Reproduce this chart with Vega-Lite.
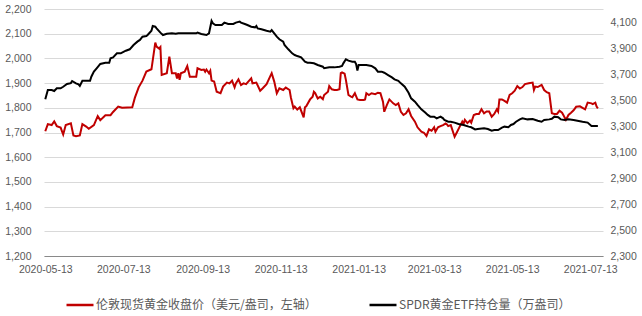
{
  "$schema": "https://vega.github.io/schema/vega-lite/v6.json",
  "width": 559,
  "height": 247,
  "autosize": {"type": "none"},
  "padding": {"left": 44, "top": 9, "right": 39, "bottom": 60},
  "background": "white",
  "config": {"view": {"stroke": null}, "font": "Liberation Sans"},
  "datasets": {
    "gold": [
      {"date": "2020-05-13", "value": 1705}, {"date": "2020-05-15", "value": 1734}, {"date": "2020-05-18", "value": 1730},
      {"date": "2020-05-20", "value": 1745}, {"date": "2020-05-22", "value": 1726}, {"date": "2020-05-25", "value": 1720},
      {"date": "2020-05-27", "value": 1692}, {"date": "2020-05-29", "value": 1730}, {"date": "2020-06-02", "value": 1737},
      {"date": "2020-06-04", "value": 1688}, {"date": "2020-06-06", "value": 1685}, {"date": "2020-06-09", "value": 1688},
      {"date": "2020-06-11", "value": 1734}, {"date": "2020-06-14", "value": 1724}, {"date": "2020-06-16", "value": 1715},
      {"date": "2020-06-20", "value": 1730}, {"date": "2020-06-23", "value": 1766}, {"date": "2020-06-25", "value": 1750},
      {"date": "2020-06-29", "value": 1770}, {"date": "2020-07-03", "value": 1770}, {"date": "2020-07-05", "value": 1783},
      {"date": "2020-07-09", "value": 1805}, {"date": "2020-07-12", "value": 1800}, {"date": "2020-07-20", "value": 1802},
      {"date": "2020-07-22", "value": 1840}, {"date": "2020-07-25", "value": 1883}, {"date": "2020-07-28", "value": 1910},
      {"date": "2020-07-31", "value": 1947}, {"date": "2020-08-04", "value": 1956}, {"date": "2020-08-07", "value": 2064},
      {"date": "2020-08-08", "value": 2048}, {"date": "2020-08-10", "value": 2040}, {"date": "2020-08-11", "value": 2046},
      {"date": "2020-08-12", "value": 1933}, {"date": "2020-08-16", "value": 1940}, {"date": "2020-08-18", "value": 2007},
      {"date": "2020-08-20", "value": 1940}, {"date": "2020-08-23", "value": 1940}, {"date": "2020-08-24", "value": 1919},
      {"date": "2020-08-25", "value": 1940}, {"date": "2020-08-26", "value": 1913}, {"date": "2020-08-27", "value": 1940},
      {"date": "2020-08-30", "value": 1946}, {"date": "2020-09-01", "value": 1969}, {"date": "2020-09-03", "value": 1926},
      {"date": "2020-09-06", "value": 1926}, {"date": "2020-09-08", "value": 1926}, {"date": "2020-09-09", "value": 1960},
      {"date": "2020-09-12", "value": 1953}, {"date": "2020-09-14", "value": 1955}, {"date": "2020-09-15", "value": 1946},
      {"date": "2020-09-16", "value": 1955}, {"date": "2020-09-18", "value": 1940}, {"date": "2020-09-19", "value": 1950},
      {"date": "2020-09-20", "value": 1910}, {"date": "2020-09-22", "value": 1906}, {"date": "2020-09-24", "value": 1865},
      {"date": "2020-09-27", "value": 1859}, {"date": "2020-09-29", "value": 1886}, {"date": "2020-10-02", "value": 1902},
      {"date": "2020-10-04", "value": 1899}, {"date": "2020-10-06", "value": 1910}, {"date": "2020-10-08", "value": 1883},
      {"date": "2020-10-09", "value": 1899}, {"date": "2020-10-11", "value": 1915}, {"date": "2020-10-13", "value": 1892},
      {"date": "2020-10-15", "value": 1899}, {"date": "2020-10-17", "value": 1896}, {"date": "2020-10-18", "value": 1902},
      {"date": "2020-10-21", "value": 1919}, {"date": "2020-10-22", "value": 1899}, {"date": "2020-10-25", "value": 1902},
      {"date": "2020-10-28", "value": 1869}, {"date": "2020-10-30", "value": 1879}, {"date": "2020-11-02", "value": 1896},
      {"date": "2020-11-05", "value": 1929}, {"date": "2020-11-06", "value": 1940}, {"date": "2020-11-08", "value": 1906},
      {"date": "2020-11-10", "value": 1859}, {"date": "2020-11-12", "value": 1879}, {"date": "2020-11-15", "value": 1872},
      {"date": "2020-11-17", "value": 1882}, {"date": "2020-11-20", "value": 1872}, {"date": "2020-11-21", "value": 1842},
      {"date": "2020-11-23", "value": 1798}, {"date": "2020-11-24", "value": 1805}, {"date": "2020-11-26", "value": 1793},
      {"date": "2020-11-28", "value": 1802}, {"date": "2020-12-01", "value": 1761}, {"date": "2020-12-02", "value": 1802},
      {"date": "2020-12-03", "value": 1806}, {"date": "2020-12-06", "value": 1834}, {"date": "2020-12-08", "value": 1845},
      {"date": "2020-12-09", "value": 1865}, {"date": "2020-12-10", "value": 1860}, {"date": "2020-12-12", "value": 1838},
      {"date": "2020-12-14", "value": 1845}, {"date": "2020-12-16", "value": 1835}, {"date": "2020-12-17", "value": 1852},
      {"date": "2020-12-20", "value": 1865}, {"date": "2020-12-21", "value": 1888}, {"date": "2020-12-23", "value": 1875},
      {"date": "2020-12-25", "value": 1872}, {"date": "2020-12-27", "value": 1872}, {"date": "2020-12-29", "value": 1875},
      {"date": "2020-12-30", "value": 1940}, {"date": "2020-12-31", "value": 1943}, {"date": "2021-01-02", "value": 1938},
      {"date": "2021-01-03", "value": 1913}, {"date": "2021-01-05", "value": 1852}, {"date": "2021-01-07", "value": 1845},
      {"date": "2021-01-08", "value": 1843}, {"date": "2021-01-10", "value": 1859}, {"date": "2021-01-12", "value": 1834},
      {"date": "2021-01-14", "value": 1832}, {"date": "2021-01-17", "value": 1832}, {"date": "2021-01-18", "value": 1834},
      {"date": "2021-01-19", "value": 1859}, {"date": "2021-01-21", "value": 1852}, {"date": "2021-01-23", "value": 1859},
      {"date": "2021-01-26", "value": 1855}, {"date": "2021-01-28", "value": 1861}, {"date": "2021-01-30", "value": 1859},
      {"date": "2021-02-01", "value": 1825}, {"date": "2021-02-02", "value": 1784}, {"date": "2021-02-04", "value": 1811},
      {"date": "2021-02-06", "value": 1834}, {"date": "2021-02-09", "value": 1818}, {"date": "2021-02-11", "value": 1811},
      {"date": "2021-02-13", "value": 1818}, {"date": "2021-02-15", "value": 1784}, {"date": "2021-02-17", "value": 1771},
      {"date": "2021-02-19", "value": 1778}, {"date": "2021-02-21", "value": 1794}, {"date": "2021-02-23", "value": 1767},
      {"date": "2021-02-26", "value": 1744}, {"date": "2021-02-28", "value": 1721}, {"date": "2021-03-03", "value": 1703},
      {"date": "2021-03-05", "value": 1699}, {"date": "2021-03-07", "value": 1686}, {"date": "2021-03-09", "value": 1713},
      {"date": "2021-03-11", "value": 1707}, {"date": "2021-03-13", "value": 1721}, {"date": "2021-03-14", "value": 1703},
      {"date": "2021-03-16", "value": 1721}, {"date": "2021-03-18", "value": 1726}, {"date": "2021-03-20", "value": 1730},
      {"date": "2021-03-22", "value": 1737}, {"date": "2021-03-23", "value": 1733}, {"date": "2021-03-24", "value": 1726},
      {"date": "2021-03-26", "value": 1730}, {"date": "2021-03-29", "value": 1683}, {"date": "2021-03-31", "value": 1703},
      {"date": "2021-04-02", "value": 1724}, {"date": "2021-04-04", "value": 1744}, {"date": "2021-04-05", "value": 1735},
      {"date": "2021-04-06", "value": 1751}, {"date": "2021-04-08", "value": 1738}, {"date": "2021-04-10", "value": 1748},
      {"date": "2021-04-11", "value": 1740}, {"date": "2021-04-13", "value": 1771}, {"date": "2021-04-15", "value": 1775},
      {"date": "2021-04-17", "value": 1775}, {"date": "2021-04-19", "value": 1794}, {"date": "2021-04-21", "value": 1778},
      {"date": "2021-04-23", "value": 1785}, {"date": "2021-04-25", "value": 1785}, {"date": "2021-04-27", "value": 1764},
      {"date": "2021-04-29", "value": 1775}, {"date": "2021-05-01", "value": 1794}, {"date": "2021-05-02", "value": 1785},
      {"date": "2021-05-03", "value": 1834}, {"date": "2021-05-05", "value": 1834}, {"date": "2021-05-07", "value": 1828},
      {"date": "2021-05-09", "value": 1821}, {"date": "2021-05-11", "value": 1852}, {"date": "2021-05-13", "value": 1859},
      {"date": "2021-05-15", "value": 1869}, {"date": "2021-05-17", "value": 1888}, {"date": "2021-05-19", "value": 1878},
      {"date": "2021-05-21", "value": 1884}, {"date": "2021-05-23", "value": 1896}, {"date": "2021-05-26", "value": 1899},
      {"date": "2021-05-29", "value": 1902}, {"date": "2021-05-30", "value": 1872}, {"date": "2021-05-31", "value": 1886},
      {"date": "2021-06-02", "value": 1884}, {"date": "2021-06-05", "value": 1893}, {"date": "2021-06-07", "value": 1872},
      {"date": "2021-06-09", "value": 1863}, {"date": "2021-06-11", "value": 1859}, {"date": "2021-06-13", "value": 1778},
      {"date": "2021-06-15", "value": 1775}, {"date": "2021-06-17", "value": 1775}, {"date": "2021-06-19", "value": 1788},
      {"date": "2021-06-21", "value": 1780}, {"date": "2021-06-22", "value": 1771}, {"date": "2021-06-24", "value": 1751},
      {"date": "2021-06-26", "value": 1771}, {"date": "2021-06-28", "value": 1780}, {"date": "2021-06-30", "value": 1790},
      {"date": "2021-07-02", "value": 1804}, {"date": "2021-07-05", "value": 1806}, {"date": "2021-07-07", "value": 1800},
      {"date": "2021-07-09", "value": 1794}, {"date": "2021-07-11", "value": 1821}, {"date": "2021-07-14", "value": 1818},
      {"date": "2021-07-15", "value": 1815}, {"date": "2021-07-17", "value": 1821}, {"date": "2021-07-18", "value": 1805},
      {"date": "2021-07-19", "value": 1798}
    ],
    "spdr": [
      {"date": "2020-05-13", "value": 3505}, {"date": "2020-05-15", "value": 3577}, {"date": "2020-05-18", "value": 3577},
      {"date": "2020-05-20", "value": 3569}, {"date": "2020-05-22", "value": 3590}, {"date": "2020-05-25", "value": 3590},
      {"date": "2020-05-27", "value": 3602}, {"date": "2020-05-30", "value": 3623}, {"date": "2020-06-02", "value": 3630},
      {"date": "2020-06-03", "value": 3646}, {"date": "2020-06-06", "value": 3628}, {"date": "2020-06-08", "value": 3620},
      {"date": "2020-06-09", "value": 3608}, {"date": "2020-06-11", "value": 3648}, {"date": "2020-06-13", "value": 3648},
      {"date": "2020-06-17", "value": 3648}, {"date": "2020-06-18", "value": 3679}, {"date": "2020-06-20", "value": 3718},
      {"date": "2020-06-22", "value": 3741}, {"date": "2020-06-25", "value": 3777}, {"date": "2020-06-29", "value": 3787},
      {"date": "2020-07-02", "value": 3787}, {"date": "2020-07-03", "value": 3821}, {"date": "2020-07-05", "value": 3828},
      {"date": "2020-07-08", "value": 3859}, {"date": "2020-07-11", "value": 3859}, {"date": "2020-07-12", "value": 3864},
      {"date": "2020-07-15", "value": 3879}, {"date": "2020-07-18", "value": 3890}, {"date": "2020-07-21", "value": 3923},
      {"date": "2020-07-24", "value": 3949}, {"date": "2020-07-26", "value": 3962}, {"date": "2020-07-28", "value": 3987},
      {"date": "2020-07-31", "value": 3992}, {"date": "2020-08-01", "value": 4000}, {"date": "2020-08-04", "value": 4033},
      {"date": "2020-08-05", "value": 4069}, {"date": "2020-08-07", "value": 4064}, {"date": "2020-08-08", "value": 4051},
      {"date": "2020-08-11", "value": 4018}, {"date": "2020-08-13", "value": 4000}, {"date": "2020-08-16", "value": 4010},
      {"date": "2020-08-20", "value": 4013}, {"date": "2020-08-23", "value": 4010}, {"date": "2020-08-25", "value": 4013},
      {"date": "2020-08-29", "value": 4013}, {"date": "2020-09-03", "value": 4013}, {"date": "2020-09-08", "value": 4013},
      {"date": "2020-09-09", "value": 4018}, {"date": "2020-09-12", "value": 4008}, {"date": "2020-09-16", "value": 4000},
      {"date": "2020-09-18", "value": 4013}, {"date": "2020-09-20", "value": 4108}, {"date": "2020-09-21", "value": 4090},
      {"date": "2020-09-23", "value": 4077}, {"date": "2020-09-28", "value": 4077}, {"date": "2020-09-30", "value": 4095},
      {"date": "2020-10-03", "value": 4085}, {"date": "2020-10-07", "value": 4085}, {"date": "2020-10-09", "value": 4095},
      {"date": "2020-10-12", "value": 4103}, {"date": "2020-10-13", "value": 4095}, {"date": "2020-10-16", "value": 4085},
      {"date": "2020-10-18", "value": 4077}, {"date": "2020-10-21", "value": 4064}, {"date": "2020-10-24", "value": 4059},
      {"date": "2020-10-25", "value": 4069}, {"date": "2020-10-26", "value": 4051}, {"date": "2020-10-29", "value": 4044},
      {"date": "2020-11-02", "value": 4033}, {"date": "2020-11-05", "value": 4026}, {"date": "2020-11-06", "value": 4038},
      {"date": "2020-11-08", "value": 4013}, {"date": "2020-11-10", "value": 3987}, {"date": "2020-11-12", "value": 3967},
      {"date": "2020-11-15", "value": 3949}, {"date": "2020-11-16", "value": 3923}, {"date": "2020-11-19", "value": 3890},
      {"date": "2020-11-22", "value": 3859}, {"date": "2020-11-24", "value": 3846}, {"date": "2020-11-26", "value": 3838},
      {"date": "2020-11-29", "value": 3828}, {"date": "2020-12-02", "value": 3795}, {"date": "2020-12-04", "value": 3787},
      {"date": "2020-12-06", "value": 3787}, {"date": "2020-12-09", "value": 3782}, {"date": "2020-12-12", "value": 3769},
      {"date": "2020-12-16", "value": 3756}, {"date": "2020-12-17", "value": 3744}, {"date": "2020-12-21", "value": 3751},
      {"date": "2020-12-25", "value": 3751}, {"date": "2020-12-29", "value": 3756}, {"date": "2020-12-31", "value": 3762},
      {"date": "2021-01-01", "value": 3782}, {"date": "2021-01-03", "value": 3813}, {"date": "2021-01-05", "value": 3803},
      {"date": "2021-01-08", "value": 3795}, {"date": "2021-01-10", "value": 3795}, {"date": "2021-01-11", "value": 3777},
      {"date": "2021-01-12", "value": 3726}, {"date": "2021-01-13", "value": 3769}, {"date": "2021-01-19", "value": 3769},
      {"date": "2021-01-23", "value": 3762}, {"date": "2021-01-26", "value": 3744}, {"date": "2021-01-28", "value": 3718},
      {"date": "2021-01-31", "value": 3718}, {"date": "2021-02-02", "value": 3710}, {"date": "2021-02-05", "value": 3692},
      {"date": "2021-02-08", "value": 3674}, {"date": "2021-02-10", "value": 3659}, {"date": "2021-02-13", "value": 3648},
      {"date": "2021-02-15", "value": 3628}, {"date": "2021-02-18", "value": 3602}, {"date": "2021-02-21", "value": 3556},
      {"date": "2021-02-23", "value": 3513}, {"date": "2021-02-26", "value": 3487}, {"date": "2021-02-28", "value": 3462},
      {"date": "2021-03-03", "value": 3428}, {"date": "2021-03-06", "value": 3403}, {"date": "2021-03-08", "value": 3385},
      {"date": "2021-03-10", "value": 3372}, {"date": "2021-03-13", "value": 3372}, {"date": "2021-03-15", "value": 3359},
      {"date": "2021-03-18", "value": 3372}, {"date": "2021-03-20", "value": 3359}, {"date": "2021-03-21", "value": 3346},
      {"date": "2021-03-24", "value": 3333}, {"date": "2021-03-26", "value": 3333}, {"date": "2021-03-29", "value": 3326},
      {"date": "2021-04-01", "value": 3315}, {"date": "2021-04-05", "value": 3308}, {"date": "2021-04-09", "value": 3295},
      {"date": "2021-04-11", "value": 3290}, {"date": "2021-04-14", "value": 3274}, {"date": "2021-04-16", "value": 3277},
      {"date": "2021-04-21", "value": 3282}, {"date": "2021-04-24", "value": 3277}, {"date": "2021-04-27", "value": 3264},
      {"date": "2021-04-29", "value": 3269}, {"date": "2021-05-02", "value": 3269}, {"date": "2021-05-05", "value": 3287},
      {"date": "2021-05-07", "value": 3295}, {"date": "2021-05-10", "value": 3290}, {"date": "2021-05-12", "value": 3308},
      {"date": "2021-05-14", "value": 3315}, {"date": "2021-05-16", "value": 3333}, {"date": "2021-05-19", "value": 3351},
      {"date": "2021-05-21", "value": 3359}, {"date": "2021-05-25", "value": 3351}, {"date": "2021-05-29", "value": 3354},
      {"date": "2021-06-02", "value": 3341}, {"date": "2021-06-05", "value": 3333}, {"date": "2021-06-07", "value": 3346},
      {"date": "2021-06-11", "value": 3351}, {"date": "2021-06-13", "value": 3356}, {"date": "2021-06-15", "value": 3372},
      {"date": "2021-06-18", "value": 3367}, {"date": "2021-06-20", "value": 3351}, {"date": "2021-06-23", "value": 3346},
      {"date": "2021-06-26", "value": 3351}, {"date": "2021-06-30", "value": 3346}, {"date": "2021-07-03", "value": 3341},
      {"date": "2021-07-07", "value": 3333}, {"date": "2021-07-11", "value": 3326}, {"date": "2021-07-14", "value": 3300},
      {"date": "2021-07-16", "value": 3300}, {"date": "2021-07-19", "value": 3300}
    ]
  },
  "layer": [
    {
      "data": {"name": "gold"},
      "mark": {"type": "line", "strokeWidth": 2, "interpolate": "linear"},
      "encoding": {
        "x": {
          "field": "date", "type": "temporal",
          "scale": {"type": "utc", "domain": [{"year": 2020, "month": 5, "date": 12, "utc": true}, {"year": 2021, "month": 7, "date": 23, "utc": true}]},
          "axis": {
            "title": null,
            "values": [
              {"year": 2020, "month": 5, "date": 13, "utc": true}, {"year": 2020, "month": 7, "date": 13, "utc": true},
              {"year": 2020, "month": 9, "date": 13, "utc": true}, {"year": 2020, "month": 11, "date": 13, "utc": true},
              {"year": 2021, "month": 1, "date": 13, "utc": true}, {"year": 2021, "month": 3, "date": 13, "utc": true},
              {"year": 2021, "month": 5, "date": 13, "utc": true}, {"year": 2021, "month": 7, "date": 13, "utc": true}
            ],
            "labelExpr": "utcFormat(datum.value, '%Y-%m-%d')",
            "grid": false, "ticks": false, "tickSize": 0,
            "domain": true, "domainColor": "#898989", "domainWidth": 1,
            "labelColor": "#595959", "labelFontSize": 10.5, "labelPadding": 8,
            "labelFlush": false, "labelOverlap": false
          }
        },
        "y": {
          "field": "value", "type": "quantitative",
          "scale": {"domain": [1200, 2200], "nice": false, "zero": false},
          "axis": {
            "title": null,
            "values": [1200, 1300, 1400, 1500, 1600, 1700, 1800, 1900, 2000, 2100, 2200],
            "labelExpr": "format(datum.value, ',.0f')",
            "grid": true, "gridColor": "#D9D9D9", "gridWidth": 1,
            "domain": false, "ticks": false, "tickSize": 0,
            "labelColor": "#595959", "labelFontSize": 10.5, "labelPadding": 13
          }
        },
        "color": {
          "datum": "伦敦现货黄金收盘价（美元/盎司，左轴）",
          "type": "nominal",
          "scale": {
            "domain": ["伦敦现货黄金收盘价（美元/盎司，左轴）", "SPDR黄金ETF持仓量（万盎司）"],
            "range": ["#C00000", "#000000"]
          },
          "legend": {
            "orient": "none", "legendX": 21, "legendY": 281,
            "direction": "horizontal", "title": null,
            "symbolType": "stroke", "symbolSize": 729, "symbolStrokeWidth": 2.5,
            "labelFont": "Noto Sans CJK SC", "labelFontSize": 12, "labelColor": "#595959",
            "labelOffset": 1, "columnPadding": 47, "labelLimit": 400
          }
        }
      }
    },
    {
      "data": {"name": "spdr"},
      "mark": {"type": "line", "strokeWidth": 2, "interpolate": "linear"},
      "encoding": {
        "x": {"field": "date", "type": "temporal"},
        "y": {
          "field": "value", "type": "quantitative",
          "scale": {"domain": [2300, 4200], "nice": false, "zero": false},
          "axis": {
            "title": null, "orient": "right",
            "values": [2300, 2500, 2700, 2900, 3100, 3300, 3500, 3700, 3900, 4100],
            "labelExpr": "format(datum.value, ',.0f')",
            "grid": false, "domain": false, "ticks": false, "tickSize": 0,
            "labelColor": "#595959", "labelFontSize": 10.5, "labelPadding": 7
          }
        },
        "color": {"datum": "SPDR黄金ETF持仓量（万盎司）", "type": "nominal"}
      }
    }
  ],
  "resolve": {"scale": {"y": "independent"}, "axis": {"y": "independent"}}
}
